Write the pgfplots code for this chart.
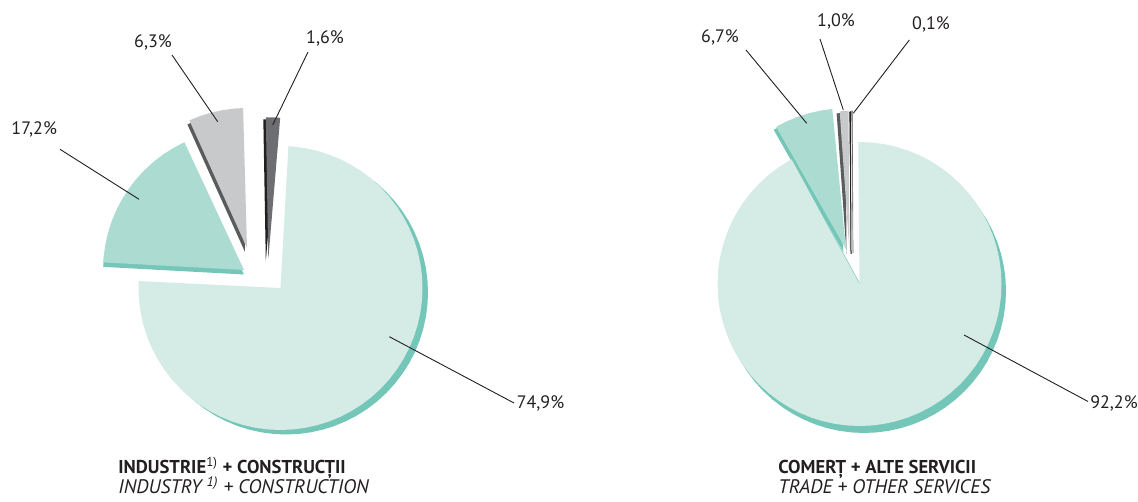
\documentclass[border=0pt]{standalone}
\usepackage{pgfplots}
\usepackage{pgfplotstable}
\pgfplotsset{compat=1.18}
\usepackage{fontspec}
\setmainfont{PT Sans}
\definecolor{mintL}{HTML}{D5EBE5}
\definecolor{mintM}{HTML}{ABDBD1}
\definecolor{mintS}{HTML}{74C7B8}
\definecolor{greyL}{HTML}{C8C9CB}
\definecolor{greyS}{HTML}{5A5B5D}
\definecolor{darkL}{HTML}{6D6E71}
\definecolor{darkS}{HTML}{231F20}
\definecolor{txt}{HTML}{231F20}
% Pie slices in polar form (angle in degrees, radius in px); boundary angles follow the shares
% Left pie: 74.9, 17.2, 6.3, 1.6 ; Right pie: 92.2, 6.7, 1.0, 0.1
\pgfplotstableread{
a r
0 0
-182.8 142
-180 142
-175 142
-170 142
-165 142
-160 142
-155 142
-150 142
-145 142
-140 142
-135 142
-130 142
-125 142
-120 142
-115 142
-110 142
-105 142
-100 142
-95 142
-90 142
-85 142
-80 142
-75 142
-70 142
-65 142
-60 142
-55 142
-50 142
-45 142
-40 142
-35 142
-30 142
-25 142
-20 142
-15 142
-10 142
-5 142
0 142
5 142
10 142
15 142
20 142
25 142
30 142
35 142
40 142
45 142
50 142
55 142
60 142
65 142
70 142
75 142
80 142
85 142
86.8 142
}\Lmain
\pgfplotstableread{
a r
0 0
115 141
120 141
125 141
130 141
135 141
140 141
145 141
150 141
155 141
160 141
165 141
170 141
175 141
176.9 141
}\Lteal
\pgfplotstableread{
a r
0 0
91.6 140
95 140
100 140
105 140
110 140
114.3 140
}\Lgrey
\pgfplotstableread{
a r
0 0
85.2 142
88 142
91.0 142
}\Ldark
\pgfplotstableread{
a r
0 0
-241.4 142
-240 142
-235 142
-230 142
-225 142
-220 142
-215 142
-210 142
-205 142
-200 142
-195 142
-190 142
-185 142
-180 142
-175 142
-170 142
-165 142
-160 142
-155 142
-150 142
-145 142
-140 142
-135 142
-130 142
-125 142
-120 142
-115 142
-110 142
-105 142
-100 142
-95 142
-90 142
-85 142
-80 142
-75 142
-70 142
-65 142
-60 142
-55 142
-50 142
-45 142
-40 142
-35 142
-30 142
-25 142
-20 142
-15 142
-10 142
-5 142
0 142
5 142
10 142
15 142
20 142
25 142
30 142
35 142
40 142
45 142
50 142
55 142
60 142
65 142
70 142
75 142
80 142
85 142
90 142
90.5 142
}\Rmain
\pgfplotstableread{
a r
0 0
95.6 141
100 141
105 141
110 141
115 141
119.7 141
}\Rteal
\pgfplotstableread{
a r
0 0
90.4 141
92 141
94.0 141
}\Rgrey
\pgfplotstableread{
a r
0 0
90.3 142
90.66 142
}\Rdark
\begin{document}
\begin{tikzpicture}
\begin{axis}[
  scale only axis, width=569pt, height=251pt,
  xmin=0, xmax=1138, ymin=0, ymax=502,
  hide axis, clip=false,
]
\addplot[draw=none] coordinates {(0,0) (1138,502)};
% ---- left pie: shadows
\addplot[fill=mintS, draw=none, data cs=polar, xshift=143pt, yshift=104.75pt] table[x=a,y=r]{\Lmain};
\addplot[fill=mintS, draw=none, data cs=polar, xshift=122pt, yshift=113.75pt] table[x=a,y=r]{\Lteal};
\addplot[fill=greyS, draw=none, data cs=polar, xshift=122.5pt, yshift=125pt] table[x=a,y=r]{\Lgrey};
\addplot[fill=darkS, draw=none, data cs=polar, xshift=132.9pt, yshift=120.35pt] table[x=a,y=r]{\Ldark};
% ---- left pie: slices
\addplot[fill=mintL, draw=none, data cs=polar, xshift=140.25pt, yshift=107pt] table[x=a,y=r]{\Lmain};
\addplot[fill=mintM, draw=none, data cs=polar, xshift=122pt, yshift=116pt] table[x=a,y=r]{\Lteal};
\addplot[fill=greyL, draw=none, data cs=polar, xshift=123.5pt, yshift=127pt] table[x=a,y=r]{\Lgrey};
\addplot[fill=darkL, draw=none, data cs=polar, xshift=134.15pt, yshift=121.35pt] table[x=a,y=r]{\Ldark};
% ---- right pie: shadows
\addplot[fill=mintS, draw=none, data cs=polar, xshift=432pt, yshift=105.5pt] table[x=a,y=r]{\Rmain};
\addplot[fill=mintS, draw=none, data cs=polar, xshift=421.75pt, yshift=124.85pt] table[x=a,y=r]{\Rteal};
\addplot[fill=greyS, draw=none, data cs=polar, xshift=423.25pt, yshift=124pt] table[x=a,y=r]{\Rgrey};
\addplot[fill=darkS, draw=darkS, line width=0.5pt, data cs=polar, xshift=425.5pt, yshift=124pt] table[x=a,y=r]{\Rdark};
% ---- right pie: slices
\addplot[fill=mintL, draw=none, data cs=polar, xshift=429.75pt, yshift=109pt] table[x=a,y=r]{\Rmain};
\addplot[fill=mintM, draw=none, data cs=polar, xshift=423pt, yshift=126.35pt] table[x=a,y=r]{\Rteal};
\addplot[fill=greyL, draw=none, data cs=polar, xshift=424.75pt, yshift=125pt] table[x=a,y=r]{\Rgrey};
\addplot[fill=darkL, draw=darkL, line width=0.3pt, data cs=polar, xshift=426.5pt, yshift=124.5pt] table[x=a,y=r]{\Rdark};
% ---- leader lines
\addplot[txt, line width=0.45pt] coordinates {(389.3,165.3) (514,99)};
\addplot[txt, line width=0.45pt] coordinates {(60,352.7) (139,302.7)};
\addplot[txt, line width=0.45pt] coordinates {(172,447) (217.7,380.3)};
\addplot[txt, line width=0.45pt] coordinates {(308,450) (272.7,377)};
\addplot[txt, line width=0.45pt] coordinates {(964,167) (1088,100.5)};
\addplot[txt, line width=0.45pt] coordinates {(746,452) (806.7,378.7)};
\addplot[txt, line width=0.45pt] coordinates {(820,463) (843.3,392)};
\addplot[txt, line width=0.45pt] coordinates {(909.3,462) (853.3,388.7)};
% ---- value labels
\begin{scope}[every node/.style={text=txt, font=\fontsize{9}{11}\selectfont, anchor=base, inner sep=0pt}]
\node at (axis cs:540.5,93) {74,9\%};
\node at (axis cs:34.2,367) {17,2\%};
\node at (axis cs:153,454) {6,3\%};
\node at (axis cs:325,458) {1,6\%};
\node at (axis cs:1114,93) {92,2\%};
\node at (axis cs:720,459) {6,7\%};
\node at (axis cs:836,475) {1,0\%};
\node at (axis cs:931,472.7) {0,1\%};
\end{scope}
% ---- titles
\begin{scope}[every node/.style={text=txt, anchor=base west, inner sep=0pt}]
\node[font=\fontsize{9.3}{11}\selectfont] at (axis cs:118,28) {\textbf{INDUSTRIE\textsuperscript{\mdseries 1)} + CONSTRUCȚII}};
\node[font=\fontsize{9.8}{11}\selectfont] at (axis cs:118,8) {\textit{INDUSTRY \textsuperscript{1)} + CONSTRUCTION}};
\node[font=\fontsize{9.3}{11}\selectfont] at (axis cs:778,28) {\textbf{COMERȚ + ALTE SERVICII}};
\node[font=\fontsize{9.8}{11}\selectfont] at (axis cs:778,8) {\textit{TRADE + OTHER SERVICES}};
\end{scope}
\end{axis}
\end{tikzpicture}
\end{document}
